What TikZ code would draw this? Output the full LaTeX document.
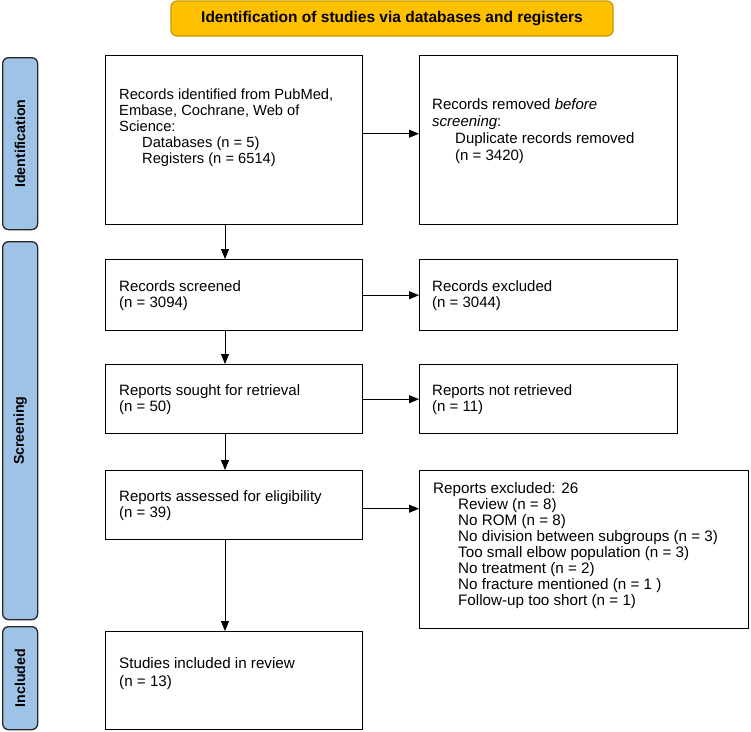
\documentclass[tikz,border=0pt]{standalone}
\usepackage{fontspec}
\setmainfont{Liberation Sans}
\usetikzlibrary{arrows.meta}
\definecolor{hdrfill}{HTML}{FFC000}
\definecolor{hdrline}{HTML}{C49A00}
\definecolor{sidefill}{HTML}{9FC3E7}
\tikzset{
  box/.style={draw=black, line width=1.4pt, minimum width=#1, inner sep=0pt, anchor=north west},
  side/.style={draw=black!85, line width=1.3pt, fill=sidefill, rounded corners=6pt, minimum width=35pt, anchor=north west, inner sep=0pt},
  sidetxt/.style={font=\fontsize{14.2pt}{16pt}\selectfont\bfseries, rotate=90},
  txt/.style={anchor=north west, inner sep=0pt, align=left, font=\fontsize{15pt}{16pt}\selectfont},
  arr/.style={draw=black, line width=0.9pt, -{Triangle[length=10pt,width=8pt]}}
}
\begin{document}
\begin{tikzpicture}[x=1pt,y=-1pt]
\useasboundingbox (0,0) rectangle (751,731);
% header
\node[draw=hdrline, line width=1.2pt, fill=hdrfill, rounded corners=6pt, minimum width=442pt, minimum height=35pt, inner sep=0pt, font=\fontsize{15.5pt}{16pt}\selectfont\bfseries] (hdr) at (392,18.5) {Identification of studies via databases and registers};
% side bars
\node[side, minimum height=172pt] (sid) at (2,57) {};
\node[sidetxt] at (sid.center) {Identification};
\node[side, minimum height=378pt] (ssc) at (2,241) {};
\node[sidetxt] at (ssc.center) {Screening};
\node[side, minimum height=103pt] (sin) at (2,626) {};
\node[sidetxt] at (sin.center) {Included};
% boxes
\node[box=257pt, minimum height=169pt] (b1) at (105,55) {};
\node[box=258pt, minimum height=169pt] (b2) at (419,55) {};
\node[box=257pt, minimum height=71pt] (b3) at (105,259) {};
\node[box=258pt, minimum height=71pt] (b4) at (419,259) {};
\node[box=257pt, minimum height=69pt] (b5) at (105,364) {};
\node[box=258pt, minimum height=69pt] (b6) at (419,364) {};
\node[box=257pt, minimum height=69pt] (b7) at (105,470) {};
\node[box=329pt, minimum height=158pt] (b8) at (419,470) {};
\node[box=257pt, minimum height=98pt] (b9) at (105,631) {};
% texts
\node[txt, font=\fontsize{14.7pt}{16pt}\selectfont] (t1) at (119,89) {Records identified from PubMed,\\Embase, Cochrane, Web of\\Science:\\\hspace*{23pt}Databases (n = 5)\\\hspace*{23pt}Registers (n = 6514)};
\node[txt, font=\fontsize{15pt}{17pt}\selectfont] (t2) at (432,98) {Records removed \textit{before}\\\textit{screening}:\\\hspace*{23pt}Duplicate records removed\\\hspace*{23pt}(n = 3420)};
\node[txt] (t3) at (119,280) {Records screened\\(n = 3094)};
\node[txt] (t4) at (432,280) {Records excluded\\(n = 3044)};
\node[txt] (t5) at (119,384.5) {Reports sought for retrieval\\(n = 50)};
\node[txt] (t6) at (432,384.5) {Reports not retrieved\\(n = 11)};
\node[txt] (t7) at (119,490.5) {Reports assessed for eligibility\\(n = 39)};
\node[txt, font=\fontsize{15.2pt}{16pt}\selectfont] (t8) at (433,482) {Reports excluded: 26\\\hspace*{25pt}Review (n = 8)\\\hspace*{25pt}No ROM (n = 8)\\\hspace*{25pt}No division between subgroups (n = 3)\\\hspace*{25pt}Too small elbow population (n = 3)\\\hspace*{25pt}No treatment (n = 2)\\\hspace*{25pt}No fracture mentioned (n = 1 )\\\hspace*{25pt}Follow-up too short (n = 1)};
\node[txt, font=\fontsize{15.2pt}{18pt}\selectfont] (t9) at (119,657) {Studies included in review\\(n = 13)};
% arrows
\coordinate (ax) at (225,0);
\draw[arr] (b1.south -| ax) -- (b3.north -| ax);
\draw[arr] (b3.south -| ax) -- (b5.north -| ax);
\draw[arr] (b5.south -| ax) -- (b7.north -| ax);
\draw[arr] (b7.south -| ax) -- (b9.north -| ax);
\draw[arr] ([yshift=6.5pt]b1.east) coordinate (p1) -- (p1 -| b2.west);
\draw[arr] (b3.east) -- (b4.west);
\draw[arr] (b5.east) -- (b6.west);
\draw[arr] ([yshift=-3.5pt]b7.east) coordinate (p7) -- (p7 -| b8.west);
\end{tikzpicture}
\end{document}
